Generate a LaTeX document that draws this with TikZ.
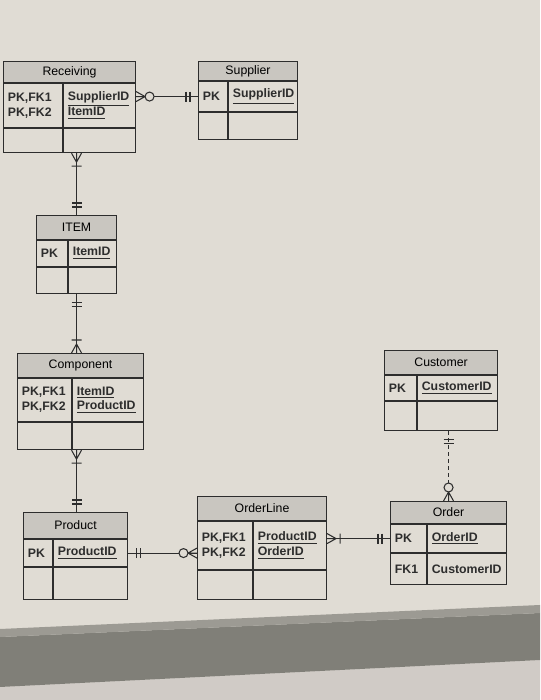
\documentclass[tikz,border=0pt]{standalone}
\usepackage{fontspec}
\setmainfont{Liberation Sans}
\usepackage{tikz}
\usetikzlibrary{positioning}

\definecolor{paper}{RGB}{224,220,212}
\definecolor{hdrgray}{RGB}{201,198,192}
\definecolor{ink}{RGB}{45,45,45}
\definecolor{bandlight}{RGB}{156,154,147}
\definecolor{banddark}{RGB}{128,127,120}
\definecolor{floor}{RGB}{208,203,198}

\newcommand{\erfont}{\fontsize{7}{8.5}\selectfont}

% one entity: name, x, top, width, header h, key row h, body row h, divider, title
\newcommand{\erbox}[9]{%
  \node[hdr, minimum width=#4*0.2mm, minimum height=#5*0.2mm, anchor=north west] (#1) at (#2,#3) {#9};
  \node[cell, minimum width=#4*0.2mm, minimum height=#6*0.2mm, anchor=north west] (#1k) at (#1.south west) {};
  \node[cell, minimum width=#4*0.2mm, minimum height=#7*0.2mm, anchor=north west] (#1b) at (#1k.south west) {};
  \draw[ink, line width=0.6pt] ([xshift=#8*0.2mm]#1k.north west) -- ([xshift=#8*0.2mm]#1b.south west);
}
% texts of one row: row, divider, left, right
\newcommand{\erkeys}[4]{%
  \node[keytxt] (#1l) at ([xshift=0.9mm]#1.west) {#3};
  \node[keytxt] (#1r) at ([xshift=#2*0.2mm+0.9mm]#1.west) {#4};
}

\tikzset{
  onlyone/.pic={\draw[solid] (8,-5) -- (8,5) (12,-5) -- (12,5);},
  onemany/.pic={\draw[solid] (0,5) -- (9,0) -- (0,-5) (0,0) -- (9,0) (13,-5) -- (13,5);},
  zeromany/.pic={\draw[solid] (0,5) -- (9,0) -- (0,-5) (0,0) -- (9,0);
                 \draw[solid, fill=paper] (13.5,0) circle[radius=4.5];},
}

\begin{document}
\begin{tikzpicture}[x=0.2mm, y=0.2mm,
    hdr/.style={draw=ink, line width=0.6pt, fill=hdrgray, inner sep=0pt, font=\erfont},
    cell/.style={draw=ink, line width=0.6pt, fill=paper, inner sep=0pt},
    keytxt/.style={anchor=west, inner sep=0pt, align=left, font=\erfont\bfseries, text=ink},
    every pic/.style={draw=ink, line width=0.6pt}]
  \useasboundingbox (0,0) rectangle (540,700);
  % paper and the dark band
  \fill[paper] (0,0) rectangle (540,700);
  \fill[floor] (0,0) -- (540,0) -- (540,40) -- (0,13) -- cycle;
  \fill[banddark] (0,13) -- (540,40) -- (540,87) -- (0,63) -- cycle;
  \fill[bandlight] (0,63) -- (540,87) -- (540,95) -- (0,71) -- cycle;

  % entities
  \erbox{recv}{3}{639}{132}{21}{44}{24}{60}{Receiving}
  \erbox{sup}{198}{639}{99}{19}{30}{27}{30}{Supplier}
  \erbox{item}{36}{485}{80}{24}{26}{26}{32}{ITEM}
  \erbox{comp}{17}{347}{126}{24}{43}{27}{55}{Component}
  \erbox{prod}{23}{188}{104}{26}{27}{32}{30}{Product}
  \erbox{ol}{197}{204}{129}{24}{48}{29}{56}{OrderLine}
  \erbox{ord}{390}{199}{116}{22}{28}{31}{37}{Order}
  \erbox{cust}{384}{350}{113}{24}{25}{29}{33}{Customer}

  \erkeys{recvk}{60}{PK,FK1\\PK,FK2}{\underline{SupplierID}\\\underline{ItemID}}
  \erkeys{supk}{30}{PK}{\underline{SupplierID}}
  \erkeys{itemk}{32}{PK}{\underline{ItemID}}
  \erkeys{compk}{55}{PK,FK1\\PK,FK2}{\underline{ItemID}\\\underline{ProductID}}
  \erkeys{prodk}{30}{PK}{\underline{ProductID}}
  \erkeys{olk}{56}{PK,FK1\\PK,FK2}{\underline{ProductID}\\\underline{OrderID}}
  \erkeys{ordk}{37}{PK}{\underline{OrderID}}
  \erkeys{ordb}{37}{FK1}{CustomerID}
  \erkeys{custk}{33}{PK}{\underline{CustomerID}}

  % relationships
  \begin{scope}[ink, line width=0.6pt]
    \draw (recvk.east |- supk.west) -- (supk.west);
    \draw (recvb.south -| item.north) -- (item.north);
    \draw (itemb.south) -- (comp.north -| itemb.south);
    \draw (compb.south -| itemb.south) -- (prod.north -| itemb.south);
    \draw (prodk.east) -- (olk.west |- prodk.east);
    \draw (olk.east |- ordk.west) -- (ordk.west);
    \draw[dash pattern=on 0.8mm off 0.6mm] (custb.south -| ord.north) -- (ord.north);
  \end{scope}
  \path (recvk.east |- supk.west) pic {zeromany} (supk.west) pic[rotate=180] {onlyone};
  \path (recvb.south -| item.north) pic[rotate=-90] {onemany} (item.north) pic[rotate=90] {onlyone};
  \path (itemb.south) pic[rotate=-90] {onlyone} (comp.north -| itemb.south) pic[rotate=90] {onemany};
  \path (compb.south -| itemb.south) pic[rotate=-90] {onemany} (prod.north -| itemb.south) pic[rotate=90] {onlyone};
  \path (prodk.east) pic {onlyone} (olk.west |- prodk.east) pic[rotate=180] {zeromany};
  \path (olk.east |- ordk.west) pic {onemany} (ordk.west) pic[rotate=180] {onlyone};
  \path (custb.south -| ord.north) pic[rotate=-90] {onlyone} (ord.north) pic[rotate=90] {zeromany};
\end{tikzpicture}
\end{document}
